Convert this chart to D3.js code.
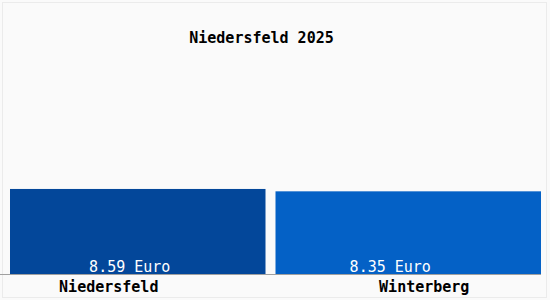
<!DOCTYPE html>
<html><head><meta charset="utf-8">
<script src="https://cdn.jsdelivr.net/npm/d3@7"></script>
<style>html,body{margin:0;padding:0;background:#fafafa;}svg{display:block;}</style>
</head><body>
<script>
const categories = ["Niedersfeld", "Winterberg"];
const values = [8.59, 8.35];
const valueLabels = ["8.59 Euro", "8.35 Euro"];
const title = "Niedersfeld 2025";

const colors = ["#03479a", "#0461c6"];
const labelShift = [-13, -18];
const catShift = [-34, 16];
const gap = 10;

const W = 550, H = 300;
const svg = d3.select("body").append("svg").attr("width", W).attr("height", H);
svg.append("rect").attr("width", W).attr("height", H).attr("fill", "#fafafa");
svg.append("rect").attr("x", 2.5).attr("y", 2.5).attr("width", 544).attr("height", 295)
  .attr("fill", "none").attr("stroke", "#ebebeb");

const x = d3.scaleBand().domain(categories).range([10, 541]).padding(0);
const y = d3.scaleLinear().domain([0, 20]).range([274, 76]);

const font = "'DejaVu Sans Mono', monospace";

svg.selectAll("rect.bar").data(values).enter().append("rect")
  .attr("class", "bar")
  .attr("x", (d, i) => x(categories[i]))
  .attr("width", (d, i) => x.bandwidth() - (i < values.length - 1 ? gap : 0))
  .attr("y", d => y(d))
  .attr("height", d => y(0) - y(d))
  .attr("fill", (d, i) => colors[i]);

svg.append("line").attr("x1", 0).attr("x2", 541).attr("y1", 274.5).attr("y2", 274.5)
  .attr("stroke", "#a0a0a0");

svg.selectAll("text.val").data(valueLabels).enter().append("text")
  .attr("x", (d, i) => x(categories[i]) + x.bandwidth() / 2 + labelShift[i])
  .attr("y", 272)
  .attr("text-anchor", "middle")
  .attr("font-family", font).attr("font-size", 15)
  .attr("fill", "#ffffff")
  .text(d => d);

svg.selectAll("text.cat").data(categories).enter().append("text")
  .attr("x", (d, i) => x(d) + x.bandwidth() / 2 + catShift[i])
  .attr("y", 292)
  .attr("text-anchor", "middle")
  .attr("font-family", font).attr("font-size", 15).attr("font-weight", "bold")
  .attr("fill", "#000")
  .text(d => d);

svg.append("text").attr("x", 261.5).attr("y", 43)
  .attr("text-anchor", "middle")
  .attr("font-family", font).attr("font-size", 15).attr("font-weight", "bold")
  .attr("fill", "#000")
  .text(title);
</script>
</body></html>
